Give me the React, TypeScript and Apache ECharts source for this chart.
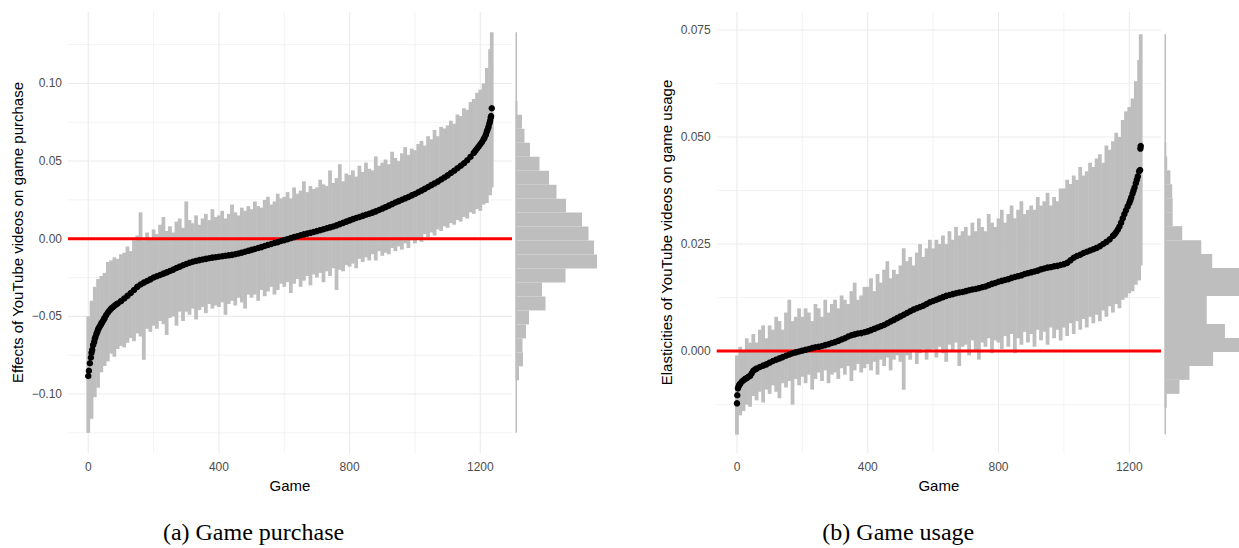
import React, { useEffect, useRef } from "react";
import * as echarts from "echarts";

// Sampled game ranks (every 10th game, plus the last game)
const sampleRanks: number[] = Array.from({ length: 124 }, (_, i) => i * 10).concat([1235]);

// ---- Panel (a): game purchase, values in units of 0.001 ----
const purchaseEst = [
  -88.4, -73.5, -64.5, -58.5, -54.5, -51.0, -47.5, -45.0, -43.2, -41.7,
  -40.2, -38.5, -36.8, -35.0, -33.0, -31.0, -29.5, -28.3, -27.2, -26.2,
  -25.0, -24.2, -23.4, -22.5, -21.7, -20.8, -19.9, -18.9, -18.0, -17.1,
  -16.3, -15.5, -14.8, -14.3, -13.8, -13.4, -13.0, -12.6, -12.2, -11.9,
  -11.6, -11.3, -11.0, -10.7, -10.4, -10.0, -9.5, -9.0, -8.4, -7.8,
  -7.2, -6.6, -6.0, -5.4, -4.7, -4.0, -3.4, -2.8, -2.2, -1.5,
  -0.9, -0.3, 0.4, 1.0, 1.6, 2.2, 2.8, 3.3, 3.8, 4.3,
  4.9, 5.5, 6.1, 6.7, 7.3, 7.9, 8.6, 9.4, 10.2, 11.0,
  11.8, 12.6, 13.3, 14.0, 14.7, 15.4, 16.1, 16.8, 17.6, 18.5,
  19.4, 20.3, 21.3, 22.3, 23.3, 24.2, 25.1, 26.0, 26.9, 27.9,
  28.8, 29.9, 31.0, 32.1, 33.3, 34.5, 35.6, 36.8, 38.1, 39.4,
  40.8, 42.3, 43.8, 45.4, 47.0, 48.6, 50.5, 52.8, 55.3, 58.1,
  60.8, 64.0, 69.0, 76.0, 84.0,
];
// extra estimate readings where the sorted curve is steep
const purchaseExtraRanks = [2, 5, 8, 12, 15, 18, 22, 25, 28, 32, 35, 38, 42, 45, 48, 55, 65, 75, 85, 1185, 1195, 1205, 1213, 1217, 1222, 1225, 1228, 1232, 1233];
const purchaseExtraEst = [-85.0, -80.2, -76.5, -71.5, -68.4, -66.5, -63.3, -61.3, -59.8, -57.6, -56.5, -55.5, -54.0, -53.0, -51.8, -49.2, -46.2, -44.1, -42.4, 56.7, 59.4, 62.3, 65.2, 67.0, 70.2, 72.0, 74.3, 78.0, 79.0];
const purchaseHi = [
  -50, -40, -31, -26, -24, -22, -15, -14, -12, -13,
  -10, -9, -5, -8, -1, 2, 17, -1, 4, 0,
  6, 3, 9, 14, 5, 8, 4, 11, 13, 7,
  24, 12, 10, 15, 9, 13, 16, 12, 19, 14,
  15, 18, 13, 16, 22, 17, 15, 20, 18, 21,
  19, 24, 21, 20, 25, 27, 22, 24, 29, 26,
  27, 30, 26, 33, 29, 31, 37, 30, 34, 32,
  33, 38, 35, 34, 44, 36, 39, 48, 37, 42,
  41, 44, 40, 47, 43, 49, 45, 44, 53, 47,
  49, 51, 48, 56, 52, 50, 55, 59, 54, 58,
  57, 61, 63, 60, 66, 64, 70, 66, 72, 71,
  73, 76, 74, 80, 79, 84, 83, 88, 90, 94,
  96, 100, 110, 122, 133,
];
const purchaseLo = [
  -125, -116, -102, -96, -86, -82, -79, -74, -76, -71,
  -69, -70, -67, -64, -66, -61, -63, -78, -58, -60,
  -56, -58, -53, -55, -62, -51, -50, -56, -47, -53,
  -47, -49, -45, -52, -46, -44, -48, -42, -45, -43,
  -44, -41, -49, -42, -40, -43, -38, -41, -45, -36,
  -38, -36, -40, -33, -37, -34, -31, -36, -33, -29,
  -31, -28, -35, -29, -26, -31, -27, -24, -30, -23,
  -25, -22, -28, -21, -24, -19, -33, -20, -21, -17,
  -18, -16, -19, -13, -15, -12, -14, -10, -14, -8,
  -11, -9, -10, -6, -8, -5, -7, -3, -6, -1,
  -3, 0, -2, 3, 1, 4, 2, 6, 5, 8,
  7, 10, 9, 12, 11, 14, 13, 17, 16, 19,
  18, 22, 23, 28, 33,
];
// Histogram of purchase estimates (bottom bin first)
const purchaseHistStart = -0.0912;
const purchaseHistWidth = 0.009;
const purchaseHistCounts = [7, 15, 14, 21, 27, 60, 53, 100, 163, 157, 146, 133, 101, 82, 67, 48, 29, 18, 13, 4];

// ---- Panel (b): game usage, values in units of 0.001 ----
const usageEst = [
  -12.2, -7.6, -6.8, -6.3, -5.8, -4.6, -4.1, -3.7, -3.4, -3.1,
  -2.7, -2.3, -2.0, -1.7, -1.4, -1.1, -0.8, -0.5, -0.3, -0.1,
  0.1, 0.3, 0.5, 0.7, 0.9, 1.0, 1.2, 1.4, 1.6, 1.9,
  2.1, 2.4, 2.7, 3.0, 3.4, 3.7, 3.9, 4.1, 4.2, 4.4,
  4.6, 4.9, 5.2, 5.5, 5.8, 6.1, 6.5, 6.9, 7.3, 7.7,
  8.1, 8.5, 8.9, 9.3, 9.7, 10.0, 10.3, 10.6, 11.0, 11.4,
  11.7, 12.0, 12.3, 12.6, 12.9, 13.1, 13.3, 13.5, 13.7, 13.8,
  14.0, 14.2, 14.4, 14.5, 14.7, 14.9, 15.1, 15.4, 15.7, 15.9,
  16.2, 16.4, 16.6, 16.8, 17.1, 17.3, 17.5, 17.7, 18.0, 18.2,
  18.4, 18.6, 18.8, 19.1, 19.3, 19.5, 19.6, 19.8, 19.9, 20.1,
  20.3, 20.6, 21.2, 21.8, 22.2, 22.5, 22.9, 23.2, 23.5, 23.8,
  24.1, 24.5, 25.0, 25.5, 26.1, 26.9, 27.8, 29.1, 31.0, 32.9,
  34.6, 36.8, 39.2, 42.0, 47.9,
];
const usageExtraRanks = [1, 3, 5, 7, 15, 25, 35, 45, 55, 1155, 1165, 1175, 1185, 1195, 1203, 1206, 1213, 1216, 1223, 1226, 1233, 1234];
const usageExtraEst = [-10.3, -8.7, -8.2, -7.9, -7.1, -6.5, -6.0, -5.2, -4.3, 27.3, 28.4, 30.0, 32.0, 33.8, 35.2, 35.9, 37.5, 38.2, 40.0, 40.8, 42.3, 47.3];
const usageHi = [
  -1, 1, 0, 3, 2, 4, 2, 5, 6, 3,
  6, 5, 8, 7, 5, 9, 12, 7, 8, 10,
  8, 10, 9, 7, 11, 10, 8, 12, 9, 11,
  12, 10, 13, 12, 11, 14, 16, 12, 13, 15,
  15, 17, 14, 18, 16, 19, 21, 17, 19, 18,
  20, 24, 21, 22, 20, 23, 25, 22, 24, 26,
  24, 26, 25, 27, 25, 28, 26, 29, 27, 28,
  29, 27, 30, 28, 31, 29, 28, 32, 30, 29,
  31, 33, 30, 32, 34, 31, 33, 35, 32, 33,
  34, 33, 36, 34, 35, 37, 34, 36, 35, 38,
  38, 40, 39, 41, 40, 43, 41, 42, 44, 43,
  45, 46, 44, 48, 47, 49, 51, 50, 54, 56,
  57, 59, 63, 68, 74,
];
const usageLo = [
  -19.5, -15, -14, -12.5, -13, -10.5, -11.5, -9.5, -12, -9,
  -10, -8, -9.5, -11, -7.5, -8.5, -7, -12.5, -6.5, -8,
  -6, -7.5, -5.5, -9, -6.5, -5, -7, -4.5, -7.5, -5.5,
  -5, -6.5, -4, -5.5, -3.5, -7, -4.5, -3, -5, -4,
  -3, -4.5, -2.5, -5.5, -2, -3.5, -1.5, -4.5, -2, -1,
  -2.5, -9, -1, -2, 0, -3, -0.5, 0.5, -2, 0,
  0.5, -1.5, 1, -0.5, -2.5, 1.5, 0, 2, -3.5, 1,
  1.5, -1, 2.5, 0, -2, 2, 1, 3, -0.5, 2.5,
  2, 0.5, 3.5, 1, 4, -0.5, 3, 1.5, 4.5, 2,
  4, 1, 5, 2.5, 4.5, 1.5, 5.5, 3, 5, 2.5,
  5.5, 3.5, 6.5, 4, 7, 5, 7.5, 5.5, 8, 6.5,
  8.5, 7, 9.5, 8, 10.5, 9, 11, 10, 12, 12.5,
  13.5, 14, 15.5, 16.5, 20,
];
const usageHistStart = -0.01325;
const usageHistWidth = 0.003264;
const usageHistCounts = [5, 33, 55, 107, 164, 133, 93, 93, 170, 170, 105, 81, 39, 18, 18, 17, 13, 6, 4];

// ---- Axis ticks ----
const xTicks = [0, 400, 800, 1200];
const xMinor = [200, 600, 1000];
const purchaseYTicks = [-0.1, -0.05, 0, 0.05, 0.1];
const purchaseYMinor = [-0.125, -0.075, -0.025, 0.025, 0.075, 0.125];
const usageYTicks = [0, 0.025, 0.05, 0.075];
const usageYMinor = [-0.0125, 0.0125, 0.0375, 0.0625];

const captions = ["(a) Game purchase", "(b) Game usage"];
const yTitles = ["Effects of YouTube videos on game purchase", "Elasticities of YouTube videos on game usage"];

const SANS = "'Liberation Sans', Arial, Helvetica, sans-serif";
const GRAY = "#BEBEBE";
const GRID = "#EBEBEB";
const HIST_MAX = 164;

function buildPanel(
  idx: number,
  est: number[],
  extraRanks: number[],
  extraEst: number[],
  lo: number[],
  hi: number[],
  histStart: number,
  histWidth: number,
  histCounts: number[],
  majorY: number[],
  minorY: number[]
) {
  const main = idx * 2;
  const hist = idx * 2 + 1;
  const bars = sampleRanks.map((g, i) => [g, lo[i] / 1000, hi[i] / 1000]);
  const dots = sampleRanks
    .map((g, i) => [g, est[i] / 1000])
    .concat(extraRanks.map((g, i) => [g, extraEst[i] / 1000]));
  const bins = histCounts.map((c, i) => [histStart + i * histWidth, histStart + (i + 1) * histWidth, c]);
  const minLo = Math.min(...lo) / 1000;
  const maxHi = Math.max(...hi) / 1000;
  const gridItems = [
    ...xTicks.map((v) => [v, 0, 1]),
    ...xMinor.map((v) => [v, 0, 0]),
    ...majorY.map((v) => [v, 1, 1]),
    ...minorY.map((v) => [v, 1, 0]),
  ];
  return [
    {
      type: "custom",
      xAxisIndex: main,
      yAxisIndex: main,
      z: 1,
      silent: true,
      data: gridItems,
      renderItem: (params: any, api: any) => {
        const v = api.value(0);
        const horiz = api.value(1) === 1;
        const major = api.value(2) === 1;
        const cs = params.coordSys;
        if (horiz) {
          const y = api.coord([0, v])[1];
          return {
            type: "line",
            shape: { x1: cs.x, y1: y, x2: cs.x + cs.width, y2: y },
            style: { stroke: GRID, lineWidth: major ? 1.1 : 0.6 },
          };
        }
        const x = api.coord([v, 0])[0];
        return {
          type: "line",
          shape: { x1: x, y1: cs.y, x2: x, y2: cs.y + cs.height },
          style: { stroke: GRID, lineWidth: major ? 1.1 : 0.6 },
        };
      },
    },
    {
      type: "custom",
      xAxisIndex: main,
      yAxisIndex: main,
      z: 2,
      silent: true,
      data: bars,
      renderItem: (params: any, api: any) => {
        const g = api.value(0);
        const p1 = api.coord([g, api.value(2)]);
        const p2 = api.coord([g, api.value(1)]);
        const w = api.size([10, 0])[0] + 0.5;
        return {
          type: "rect",
          shape: { x: p1[0] - w / 2, y: p1[1], width: w, height: p2[1] - p1[1] },
          style: { fill: GRAY },
        };
      },
    },
    {
      type: "custom",
      xAxisIndex: main,
      yAxisIndex: main,
      z: 3,
      silent: true,
      data: [[0]],
      renderItem: (params: any, api: any) => {
        const cs = params.coordSys;
        const y = api.coord([0, api.value(0)])[1];
        return {
          type: "line",
          shape: { x1: cs.x, y1: y, x2: cs.x + cs.width, y2: y },
          style: { stroke: "#FF0000", lineWidth: 3 },
        };
      },
    },
    {
      type: "scatter",
      xAxisIndex: main,
      yAxisIndex: main,
      z: 4,
      symbol: "circle",
      symbolSize: 6.5,
      itemStyle: { color: "#000000", opacity: 1 },
      data: dots,
    },
    {
      type: "custom",
      xAxisIndex: hist,
      yAxisIndex: hist,
      z: 2,
      silent: true,
      clip: true,
      data: bins,
      renderItem: (params: any, api: any) => {
        const p1 = api.coord([0, api.value(1)]);
        const p2 = api.coord([api.value(2), api.value(0)]);
        return {
          type: "rect",
          shape: { x: p1[0], y: p1[1], width: p2[0] - p1[0], height: p2[1] - p1[1] },
          style: { fill: GRAY },
        };
      },
    },
    {
      type: "custom",
      xAxisIndex: hist,
      yAxisIndex: hist,
      z: 3,
      silent: true,
      data: [[minLo, maxHi]],
      renderItem: (params: any, api: any) => {
        const a = api.coord([0, api.value(1)]);
        const b = api.coord([0, api.value(0)]);
        return {
          type: "line",
          shape: { x1: a[0] + 0.75, y1: a[1], x2: b[0] + 0.75, y2: b[1] },
          style: { stroke: GRAY, lineWidth: 1.5 },
        };
      },
    },
  ];
}

function mainXAxis(gridIndex: number) {
  return {
    type: "value",
    gridIndex,
    min: -62,
    max: 1297,
    axisLine: { show: false },
    axisTick: { show: false },
    splitLine: { show: false },
    axisLabel: {
      customValues: xTicks,
      color: "#4D4D4D",
      fontSize: 12,
      fontFamily: SANS,
      margin: 8,
      formatter: (v: number) => String(v),
    },
    name: "Game",
    nameLocation: "middle",
    nameGap: 21,
    nameTextStyle: { color: "#000000", fontSize: 15, fontFamily: SANS },
  };
}

function mainYAxis(gridIndex: number, min: number, max: number, ticks: number[], digits: number, title: string) {
  return {
    type: "value",
    gridIndex,
    min,
    max,
    axisLine: { show: false },
    axisTick: { show: false },
    splitLine: { show: false },
    axisLabel: {
      customValues: ticks,
      color: "#4D4D4D",
      fontSize: 12,
      fontFamily: SANS,
      margin: 6,
      formatter: (v: number) => v.toFixed(digits).replace("-", "\u2212"),
    },
    name: title,
    nameLocation: "middle",
    nameRotate: 90,
    nameGap: 43,
    nameTextStyle: { color: "#000000", fontSize: 15, fontFamily: SANS },
  };
}

export default function App() {
  const ref = useRef<HTMLDivElement>(null);
  useEffect(() => {
    if (!ref.current) return;
    const chart = echarts.init(ref.current, undefined, { renderer: "svg" });
    const pMin = -0.138, pMax = 0.146;
    const uMin = -0.0238, uMax = 0.0792;
    chart.setOption({
      animation: false,
      backgroundColor: "#ffffff",
      grid: [
        { left: 68, top: 12, width: 444, height: 441 },
        { left: 515.5, top: 12, width: 82, height: 441 },
        { left: 716.7, top: 12, width: 444.3, height: 441 },
        { left: 1164.5, top: 12, width: 82, height: 441 },
      ],
      xAxis: [
        mainXAxis(0),
        { type: "value", gridIndex: 1, min: 0, max: HIST_MAX, show: false },
        mainXAxis(2),
        { type: "value", gridIndex: 3, min: 0, max: HIST_MAX, show: false },
      ],
      yAxis: [
        mainYAxis(0, pMin, pMax, purchaseYTicks, 2, yTitles[0]),
        { type: "value", gridIndex: 1, min: pMin, max: pMax, show: false },
        mainYAxis(2, uMin, uMax, usageYTicks, 3, yTitles[1]),
        { type: "value", gridIndex: 3, min: uMin, max: uMax, show: false },
      ],
      graphic: [
        {
          type: "text",
          x: 253.5,
          y: 532,
          style: {
            text: captions[0],
            fill: "#000000",
            font: "24px 'Liberation Serif', 'Times New Roman', serif",
            textAlign: "center",
            textVerticalAlign: "middle",
          },
        },
        {
          type: "text",
          x: 898.3,
          y: 532,
          style: {
            text: captions[1],
            fill: "#000000",
            font: "24px 'Liberation Serif', 'Times New Roman', serif",
            textAlign: "center",
            textVerticalAlign: "middle",
          },
        },
      ],
      series: [
        ...buildPanel(0, purchaseEst, purchaseExtraRanks, purchaseExtraEst, purchaseLo, purchaseHi, purchaseHistStart, purchaseHistWidth, purchaseHistCounts, purchaseYTicks, purchaseYMinor),
        ...buildPanel(1, usageEst, usageExtraRanks, usageExtraEst, usageLo, usageHi, usageHistStart, usageHistWidth, usageHistCounts, usageYTicks, usageYMinor),
      ],
    });
    return () => chart.dispose();
  }, []);
  return (
    <div
      ref={ref}
      style={{ position: "absolute", left: 0, top: 0, width: 1239, height: 548, background: "#ffffff" }}
    />
  );
}
